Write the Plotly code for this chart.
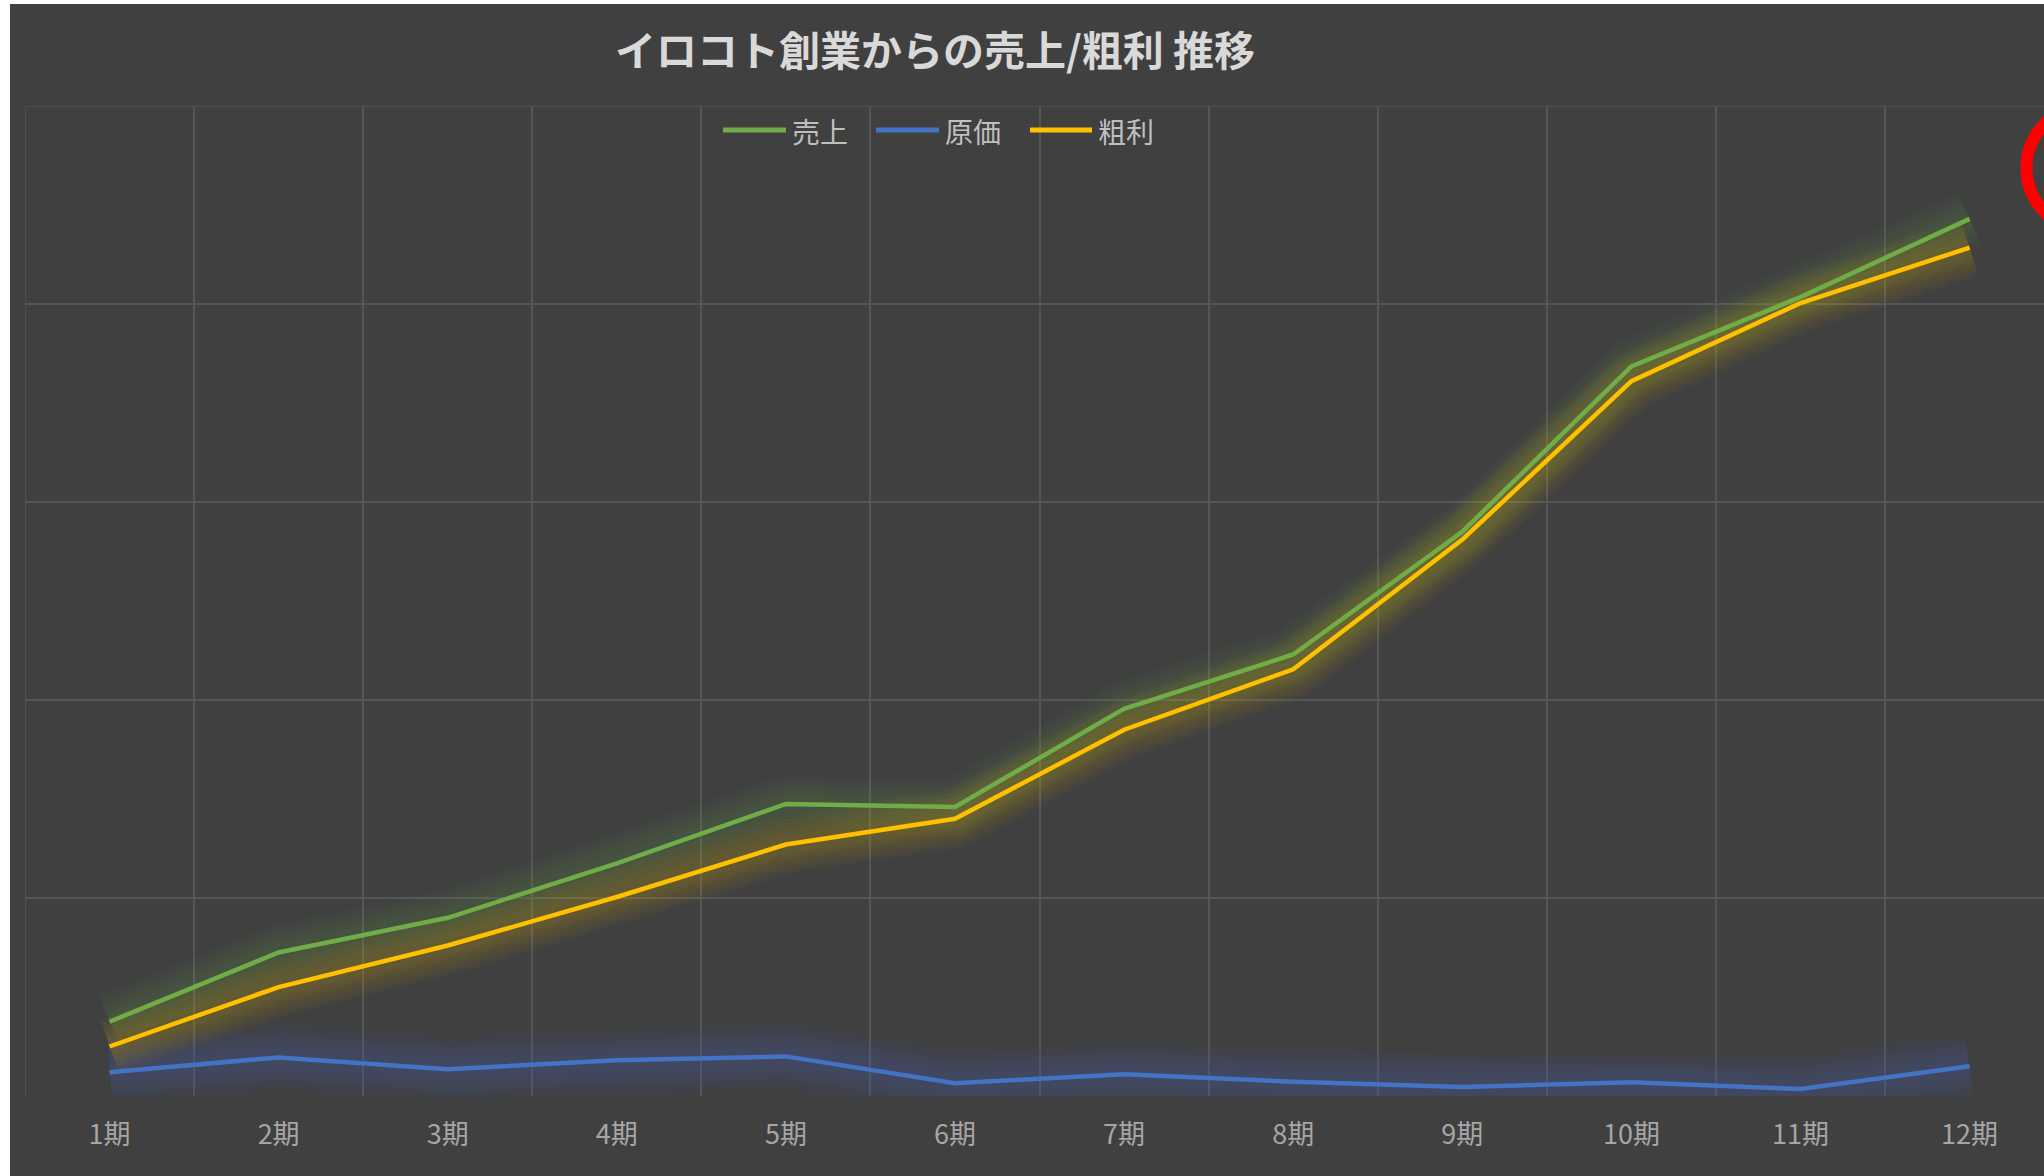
import plotly.graph_objects as go

# ---- data ----
periods = ["1期", "2期", "3期", "4期", "5期", "6期", "7期", "8期", "9期", "10期", "11期", "12期"]
x_pos = [1, 2, 3, 4, 5, 6, 7, 8, 9, 10, 11, 12]
sales = [75, 145, 180, 235, 295, 292, 391, 446, 570, 737, 807, 886]      # 売上
cost = [24, 39, 27, 36, 40, 13, 22, 14.5, 9, 14, 7, 30]                  # 原価
profit = [50, 110, 152, 201, 254, 280, 370, 431, 562, 722, 801, 857]     # 粗利
series_names = ["売上", "原価", "粗利"]
grid_y = [200, 400, 600, 800, 1000]
grid_x = [0.5, 1.5, 2.5, 3.5, 4.5, 5.5, 6.5, 7.5, 8.5, 9.5, 10.5, 11.5, 12.5]

FONT = "Noto Sans CJK JP"
GREEN = "#70AD47"
BLUE = "#4472C4"
YELLOW = "#FFC000"
BG = "#404040"
GRID = "#555555"

W, H = 2044, 1176
L, R, T, B = 25, 0, 106, 80
PW, PH = W - L - R, H - T - B
X0, X1 = 0.5, 12.44
Y0, Y1 = 0, 1000


def px2x(px):
    return (px - L) / PW


def px2y(py):
    return (H - B - py) / PH


fig = go.Figure()

series = [(series_names[0], sales, GREEN, (112, 173, 71)),
          (series_names[1], cost, BLUE, (68, 114, 196)),
          (series_names[2], profit, YELLOW, (255, 192, 0))]

# soft glow layers
for name, vals, col, rgb in series:
    if name == "原価":
        widths, a = [68, 60, 52, 44, 36, 28, 20], 0.038
    else:
        widths, a = [58, 50, 42, 34, 26, 18], 0.036
    for w in widths:
        fig.add_trace(go.Scatter(
            x=x_pos, y=vals, mode="lines",
            line=dict(color=f"rgba({rgb[0]},{rgb[1]},{rgb[2]},{a})", width=w),
            showlegend=False, hoverinfo="skip"))

# main lines
for name, vals, col, rgb in series:
    fig.add_trace(go.Scatter(
        x=x_pos, y=vals, mode="lines", name=name,
        line=dict(color=col, width=4.5), showlegend=False))

shapes = [
    # edge gridlines (top and left border of the plot area)
    dict(type="line", xref="x", yref="y", x0=X0, x1=X1, y0=Y1, y1=Y1,
         line=dict(color=GRID, width=1.5), layer="below"),
    dict(type="line", xref="x", yref="y", x0=X0, x1=X0, y0=Y0, y1=Y1,
         line=dict(color=GRID, width=1.5), layer="below"),
    # white strips at left / top of the screenshot
    dict(type="rect", xref="paper", yref="paper",
         x0=px2x(-5), x1=px2x(10), y0=px2y(H + 5), y1=px2y(-5),
         fillcolor="white", line=dict(width=0), layer="above"),
    dict(type="rect", xref="paper", yref="paper",
         x0=px2x(-5), x1=px2x(W + 5), y0=px2y(4), y1=px2y(-5),
         fillcolor="white", line=dict(width=0), layer="above"),
    # red circle at the right edge (partially cut off)
    dict(type="circle", xref="paper", yref="paper",
         x0=px2x(2026.5), x1=px2x(2151.5), y0=px2y(230.5), y1=px2y(105.5),
         line=dict(color="#FF0000", width=12), fillcolor="rgba(0,0,0,0)", layer="above"),
]

annotations = []
# custom legend (long line samples like the original)
legend_line_px = [(723, 786), (876, 939), (1030, 1092)]
legend_colors = [GREEN, BLUE, YELLOW]
for (a, b), c, nm in zip(legend_line_px, legend_colors, series_names):
    shapes.append(dict(type="line", xref="paper", yref="paper",
                       x0=px2x(a), x1=px2x(b), y0=px2y(130), y1=px2y(130),
                       line=dict(color=c, width=5), layer="above"))
    annotations.append(dict(text=nm, xref="paper", yref="paper",
                            x=px2x(b + 4), y=px2y(131), xanchor="left", yanchor="middle",
                            showarrow=False,
                            font=dict(family=FONT, size=28, color="#BFBFBF")))

fig.update_layout(
    width=W, height=H,
    margin=dict(l=L, r=R, t=T, b=B, pad=0),
    paper_bgcolor=BG, plot_bgcolor=BG,
    font=dict(family=FONT, color="#BFBFBF"),
    title=dict(text="<b>イロコト創業からの売上/粗利 推移</b>",
               x=935 / W, xanchor="center", xref="container",
               y=1 - 52 / H, yanchor="middle", yref="container",
               font=dict(family=FONT, size=41, color="#D9D9D9")),
    showlegend=False,
    xaxis=dict(range=[X0, X1], tickmode="array", tickvals=x_pos, ticktext=periods,
               showgrid=False, zeroline=False, showline=False,
               ticks="outside", ticklen=15, tickcolor="rgba(0,0,0,0)",
               tickfont=dict(family=FONT, size=27, color="#A6A6A6"),
               minor=dict(tickmode="array", tickvals=grid_x, showgrid=True,
                          gridcolor=GRID, gridwidth=1.5, ticks="")),
    yaxis=dict(range=[Y0, Y1], tickmode="array", tickvals=grid_y,
               showticklabels=False, showgrid=True, gridcolor=GRID, gridwidth=1.5,
               zeroline=False, showline=False, ticks=""),
    shapes=shapes,
    annotations=annotations,
)

fig.write_html("out.html")
